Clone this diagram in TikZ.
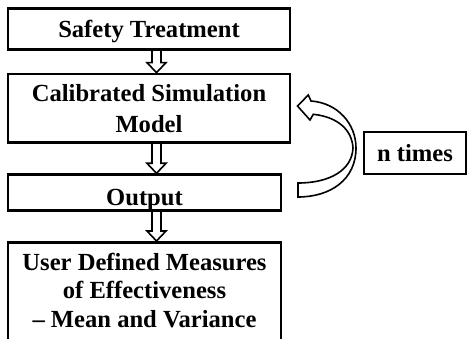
\documentclass[tikz,border=0pt]{standalone}
\usepackage{fontspec}
\setmainfont{Liberation Serif}
\usetikzlibrary{calc,backgrounds}
\newcommand\hollowdown[2]{%
  \draw[hollow] let \p1=(#1), \p2=(#2) in
    (\x1-4.5pt,\y1) -- (\x1-4.5pt,\y2+10pt) -- (\x1-9.5pt,\y2+10pt) -- (\x1,\y2)
    -- (\x1+9.5pt,\y2+10pt) -- (\x1+4.5pt,\y2+10pt) -- (\x1+4.5pt,\y1);}
\begin{document}
\begin{tikzpicture}[x=1pt,y=1pt,
  txt/.style={font=\bfseries\fontsize{24.6}{31.6}\selectfont, align=center},
  box/.style={txt, draw=black, line width=2.8pt, fill=white, inner sep=0pt},
  hollow/.style={draw=black, line width=1.6pt, fill=white, line join=miter},
]
\useasboundingbox (0,0) rectangle (469,-339);
\clip (0,0) rectangle (469,-339);
\node[box, minimum width=282, text height=28.4pt, text depth=12.6pt, anchor=north] (saf) at (149,-7.3) {Safety Treatment};
\node[box, minimum width=282, minimum height=68.7] (cal) at (149,-108.4) {Calibrated Simulation\\Model};
\node[box, minimum width=273, text height=30.5pt, text depth=5.5pt, anchor=north] (out) at (144.5,-173.3) {Output};
\node[box, minimum width=273, minimum height=120, anchor=north] (mes) at (144.5,-241) {};
\node[txt, font=\bfseries\fontsize{24.6}{28.3}\selectfont] (mestext) at (144.5,-290.4)
  {User Defined Measures\\of Effectiveness\\– Mean and Variance};
\node[box, minimum width=102, minimum height=42] (nt) at (415,-153) {n times};
\coordinate (ax) at (156.5,0);
\begin{scope}[on background layer]
\hollowdown{saf.south -| ax}{cal.north -| ax}
\hollowdown{cal.south -| ax}{out.north -| ax}
\hollowdown{out.south -| ax}{mes.north -| ax}
\end{scope}
\draw[hollow] (298,-197) .. controls (330,-197) and (356,-180) .. (356,-148)
  .. controls (356,-124) and (338,-103) .. (311,-101) -- (308.3,-95) -- (297.5,-106)
  -- (310,-120) -- (313.3,-114.3)
  .. controls (338,-117) and (352,-130) .. (353,-148)
  .. controls (352,-170) and (330,-183) .. (298,-183) -- cycle;
\end{tikzpicture}
\end{document}
